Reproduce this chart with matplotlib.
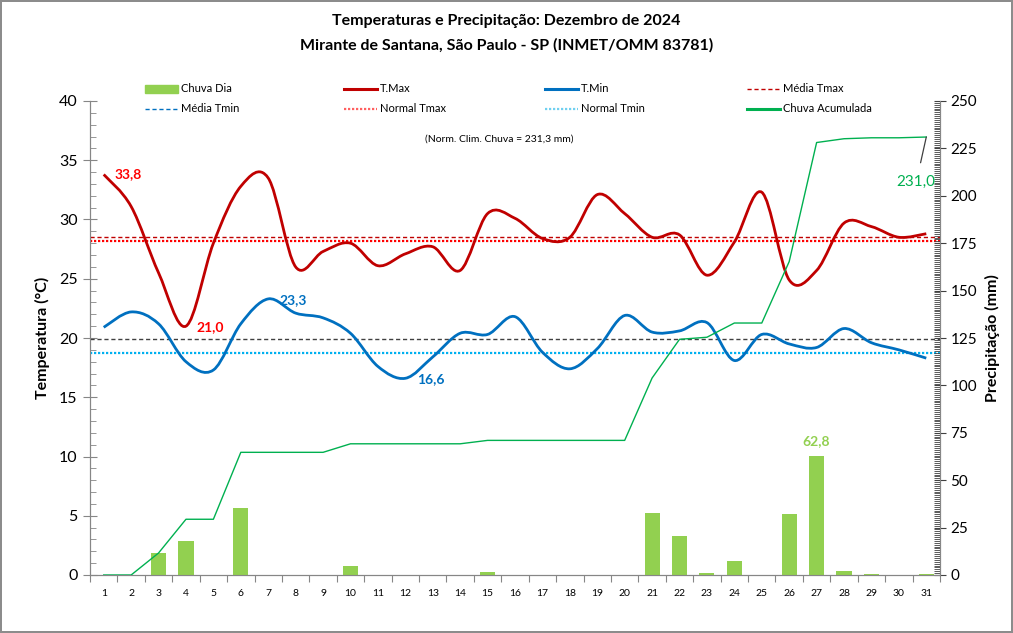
import numpy as np
import matplotlib
matplotlib.use('Agg')
from matplotlib import pyplot as plt
from matplotlib.path import Path
import matplotlib.patches as patches
from matplotlib.lines import Line2D
from matplotlib.ticker import MultipleLocator, FixedLocator, NullFormatter

#=========================== data ===========================
days = list(range(1, 32))
tmax = [33.8, 31.1, 25.5, 21.0, 28.0, 32.8, 33.5, 26.0, 27.3, 28.0,
        26.1, 27.1, 27.7, 25.7, 30.5, 30.1, 28.4, 28.5, 32.1, 30.5,
        28.5, 28.7, 25.3, 28.1, 32.3, 24.9, 25.7, 29.7, 29.4, 28.5, 28.8]
tmin = [20.9, 22.2, 21.2, 18.0, 17.3, 21.2, 23.3, 22.1, 21.7, 20.4,
        17.6, 16.6, 18.4, 20.4, 20.3, 21.8, 18.8, 17.4, 19.1, 21.9,
        20.5, 20.6, 21.3, 18.1, 20.3, 19.5, 19.2, 20.8, 19.6, 19.0, 18.3]
chuva = [0.0, 0.0, 11.6, 17.8, 0.0, 35.3, 0.0, 0.0, 0.0, 4.5,
         0.0, 0.0, 0.0, 0.0, 1.8, 0.0, 0.0, 0.0, 0.0, 0.0,
         32.9, 20.4, 1.1, 7.5, 0.0, 32.4, 62.8, 2.0, 0.5, 0.0, 0.4]
media_tmax = 28.5
media_tmin = 19.9
normal_tmax = 28.2
normal_tmin = 18.7
normal_chuva = 231.3
chuva_acum = np.cumsum(chuva)

C_TMAX = '#C00000'
C_TMIN = '#0070C0'
C_BAR = '#92D050'
C_ACUM = '#00B050'
C_AXIS = '#868686'

plt.rcParams['font.family'] = ['Lato', 'DejaVu Sans']


def br(v):
  # number with decimal comma
  return f'{v:.1f}'.replace('.', ',')


def smooth_path(x, y):
  # Excel style smoothed line: cubic bezier through every point
  pts = np.column_stack([x, y]).astype(float)
  ext = np.vstack([pts[0], pts, pts[-1]])
  verts = [pts[0]]
  codes = [Path.MOVETO]
  for i in range(len(pts) - 1):
    p0, p1, p2, p3 = ext[i], ext[i + 1], ext[i + 2], ext[i + 3]
    verts += [p1 + (p2 - p0) / 6.0, p2 - (p3 - p1) / 6.0, p2]
    codes += [Path.CURVE4] * 3
  return Path(verts, codes)


#=========================== figure ===========================
fig = plt.figure(figsize=(10.13, 6.33), dpi=100)
fig.patch.set_edgecolor('#8c8c8c')
fig.patch.set_linewidth(1.5)
ax = fig.add_axes([90 / 1013, 1 - 575 / 633, 850 / 1013, 474 / 633])
ax2 = ax.twinx()

# temperatures (left axis)
ax.add_patch(patches.PathPatch(smooth_path(days, tmax), facecolor='none',
                               edgecolor=C_TMAX, lw=2.0, zorder=5))
ax.add_patch(patches.PathPatch(smooth_path(days, tmin), facecolor='none',
                               edgecolor=C_TMIN, lw=2.0, zorder=5))
ax.axhline(media_tmax, color=C_TMAX, ls=(0, (3, 2)), lw=1.0, zorder=3)
ax.axhline(normal_tmax, color='#FF0000', ls=(0, (1, 0.8)), lw=1.6, zorder=3)
ax.axhline(media_tmin, color='#404040', ls=(0, (3, 2)), lw=1.0, zorder=3)
ax.axhline(normal_tmin, color='#00B0F0', ls=(0, (1, 0.8)), lw=1.6, zorder=3)

# rain (right axis)
ax2.bar(days, chuva, width=0.55, color=C_BAR, zorder=2)
ax2.plot(days, chuva_acum, color=C_ACUM, lw=1.0, zorder=3)

ax.set_xlim(0.5, 31.5)
ax.set_ylim(0, 40)
ax2.set_ylim(0, 250)

for a in (ax, ax2):
  a.spines['top'].set_visible(False)
  for s in ('left', 'right', 'bottom'):
    a.spines[s].set_color(C_AXIS)

ax.xaxis.set_major_locator(FixedLocator(np.arange(0.5, 32, 1)))
ax.xaxis.set_major_formatter(NullFormatter())
ax.xaxis.set_minor_locator(FixedLocator(days))
ax.set_xticklabels([str(d) for d in days], minor=True)
ax.tick_params(axis='x', which='major', direction='out', length=5, color=C_AXIS)
ax.tick_params(axis='x', which='minor', length=0, labelsize=7.5, pad=10)

ax.yaxis.set_major_locator(MultipleLocator(5))
ax.yaxis.set_minor_locator(MultipleLocator(1))
ax.tick_params(axis='y', which='major', direction='inout', length=10,
               color=C_AXIS, labelsize=11.5, pad=4)
ax.tick_params(axis='y', which='minor', direction='in', length=4, color=C_AXIS)

ax2.yaxis.set_major_locator(MultipleLocator(25))
ax2.yaxis.set_minor_locator(MultipleLocator(1))
ax2.tick_params(axis='y', which='major', direction='inout', length=9,
                color='#404040', labelsize=11, pad=3)
ax2.tick_params(axis='y', which='minor', direction='in', length=4,
                color='#404040', width=0.6)

ax.set_ylabel('Temperatura (°C)', fontsize=11.5, fontweight='bold', labelpad=6)
ax2.set_ylabel('Precipitação (mm)', fontsize=11.5, fontweight='bold', labelpad=6)

# data labels
bold = dict(fontsize=10, fontweight='bold', ha='center', va='center')
i_tmax_max = int(np.argmax(tmax))
i_tmax_min = int(np.argmin(tmax))
i_tmin_max = int(np.argmax(tmin))
i_tmin_min = int(np.argmin(tmin))
ax.annotate(br(tmax[i_tmax_max]), (days[i_tmax_max], tmax[i_tmax_max]),
            xytext=(24, 0), textcoords='offset pixels', color='#FF0000', zorder=8, **bold)
ax.annotate(br(tmax[i_tmax_min]), (days[i_tmax_min], tmax[i_tmax_min]),
            xytext=(24, -1), textcoords='offset pixels', color='#FF0000', zorder=8, **bold)
ax.annotate(br(tmin[i_tmin_max]), (days[i_tmin_max], tmin[i_tmin_max]),
            xytext=(25, -1), textcoords='offset pixels', color=C_TMIN, zorder=8, **bold)
ax.annotate(br(tmin[i_tmin_min]), (days[i_tmin_min], tmin[i_tmin_min]),
            xytext=(26, -1), textcoords='offset pixels', color=C_TMIN, zorder=8, **bold)
i_rain = int(np.argmax(chuva))
ax2.annotate(br(chuva[i_rain]), (days[i_rain], chuva[i_rain]),
             xytext=(0, 15), textcoords='offset pixels', color=C_BAR, **bold)
ax2.annotate(br(chuva_acum[-1]), (days[-1], chuva_acum[-1]),
             xytext=(-10, -45), textcoords='offset pixels', color=C_ACUM,
             fontsize=11, ha='center', va='center',
             arrowprops=dict(arrowstyle='-', color='#404040', lw=0.9,
                             shrinkA=7, shrinkB=0))

fig.text(499 / 1013, 1 - 139 / 633,
         f'(Norm. Clim. Chuva = {br(normal_chuva)} mm)',
         fontsize=7.5, ha='center', va='center')

# titles
fig.text(0.5, 1 - 21 / 633, 'Temperaturas e Precipitação: Dezembro de 2024',
         fontsize=11.5, fontweight='bold', ha='center', va='center')
fig.text(0.5, 1 - 45 / 633, 'Mirante de Santana, São Paulo - SP (INMET/OMM 83781)',
         fontsize=11.5, fontweight='bold', ha='center', va='center')

# legend laid out like the excel one: 4 columns x 2 rows
legend_items = [
  ('bar', C_BAR, '-', 'Chuva Dia'),
  ('line', C_TMAX, '-', 'T.Max'),
  ('line', C_TMIN, '-', 'T.Min'),
  ('thin', C_TMAX, (0, (3, 2)), 'Média Tmax'),
  ('thin', C_TMIN, (0, (3, 2)), 'Média Tmin'),
  ('dot', '#FF6060', (0, (1, 0.8)), 'Normal Tmax'),
  ('dot', '#70D0F0', (0, (1, 0.8)), 'Normal Tmin'),
  ('line', C_ACUM, '-', 'Chuva Acumulada'),
]
col_x = [181, 380, 581, 783]
row_y = [89, 109]
for k, (kind, color, ls, label) in enumerate(legend_items):
  xt = col_x[k % 4]
  yt = row_y[k // 4]
  x0 = (xt - 36) / 1013
  x1 = (xt - 3) / 1013
  yy = 1 - yt / 633
  if kind == 'bar':
    fig.add_artist(patches.Rectangle((x0, yy - 4 / 633), x1 - x0, 8 / 633,
                                     transform=fig.transFigure, color=color))
  else:
    lw = {'line': 2.2, 'thin': 1.0, 'dot': 1.6}[kind]
    fig.add_artist(Line2D([x0, x1], [yy, yy], transform=fig.transFigure,
                          color=color, ls=ls, lw=lw))
  fig.text(xt / 1013, yy, label, fontsize=8, ha='left', va='center')

plt.savefig('out.png', dpi=100)
